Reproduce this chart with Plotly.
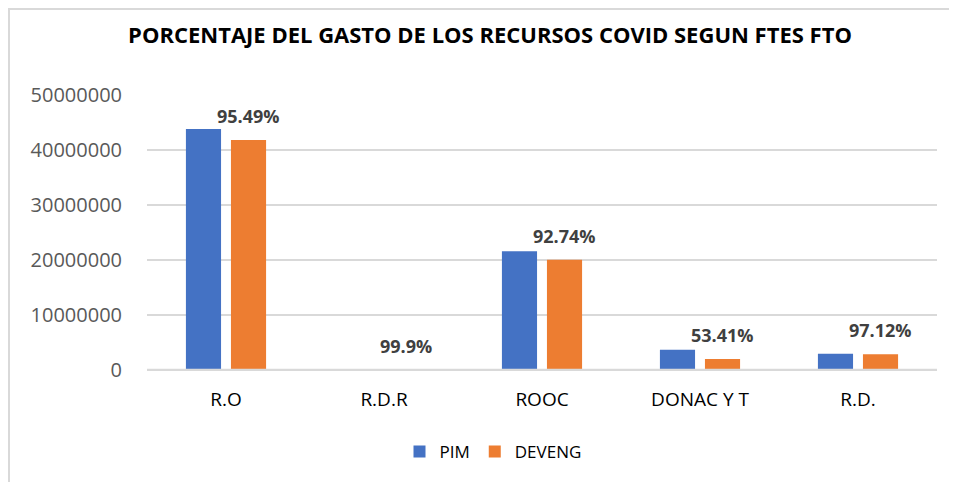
import plotly.graph_objects as go

# datos
fuentes = ["R.O", "R.D.R", "ROOC", "DONAC Y T", "R.D."]
pim = [43800000, 8000, 21600000, 3700000, 2960000]
deveng = [41830000, 7992, 20030000, 1980000, 2875000]
porcentajes = ["95.49%", "99.9%", "92.74%", "53.41%", "97.12%"]

W, H = 957, 482
# la pagina tiene 8px de margen en el body
ml, mr, mt, mb = 139, 28, 87, 120

fig = go.Figure()
fig.add_trace(go.Bar(x=fuentes, y=pim, name="PIM", marker_color="#4472C4",
                     marker_line_width=0))
fig.add_trace(go.Bar(x=fuentes, y=deveng, name="DEVENG", marker_color="#ED7D31",
                     marker_line_width=0))

# etiquetas de porcentaje encima de la barra DEVENG
for f, d, p in zip(fuentes, deveng, porcentajes):
    fig.add_annotation(x=f, y=d, text="<b>" + p + "</b>", showarrow=False,
                       xshift=22, yshift=24, yanchor="middle",
                       font=dict(family="Open Sans", size=18, color="#404040"))

# linea base por encima de las barras (como en Excel)
fig.add_shape(type="line", xref="paper", yref="y", x0=0, x1=1, y0=0, y1=0,
              layer="above", line=dict(color="#D9D9D9", width=2.5))

# borde del area del grafico
pw = W - ml - mr
ph = H - mt - mb
fig.add_shape(type="rect", xref="paper", yref="paper",
              x0=(1 - ml) / pw, x1=(W + 20 - ml) / pw,
              y0=-(H + 20 - mt - ph) / ph, y1=(H - 1 - mb) / ph,
              line=dict(color="#D9D9D9", width=2))

fig.update_layout(
    width=W, height=H,
    margin=dict(l=ml, r=mr, t=mt, b=mb),
    paper_bgcolor="white",
    plot_bgcolor="white",
    barmode="group",
    bargap=0.43,
    bargroupgap=0.22,
    title=dict(text="<b>PORCENTAJE DEL GASTO DE LOS RECURSOS COVID SEGUN FTES FTO</b>",
               x=482 / W, xref="container", xanchor="center", y=1 - 27 / H, yanchor="middle",
               font=dict(family="Open Sans", size=22, color="#000000")),
    font=dict(family="Open Sans"),
    showlegend=True,
    legend=dict(orientation="h", x=0.5 - 49 / pw, xref="paper", xanchor="center",
                y=-(444 - 362) / ph, yanchor="middle",
                font=dict(family="Open Sans", size=17, color="#000000"),
                itemwidth=30),
    xaxis=dict(showgrid=False, showline=False, ticks="", ticklabelstandoff=16,
               tickfont=dict(family="Open Sans", size=19, color="#000000")),
    yaxis=dict(range=[0, 50000000], dtick=10000000, tickformat="d",
               showgrid=True, gridcolor="#D9D9D9", gridwidth=1.5,
               zeroline=True, zerolinecolor="#D9D9D9", zerolinewidth=1.5,
               showline=False, ticks="", ticklabelstandoff=24,
               tickfont=dict(family="Open Sans", size=20, color="#595959")),
)

fig.write_html("out.html")
